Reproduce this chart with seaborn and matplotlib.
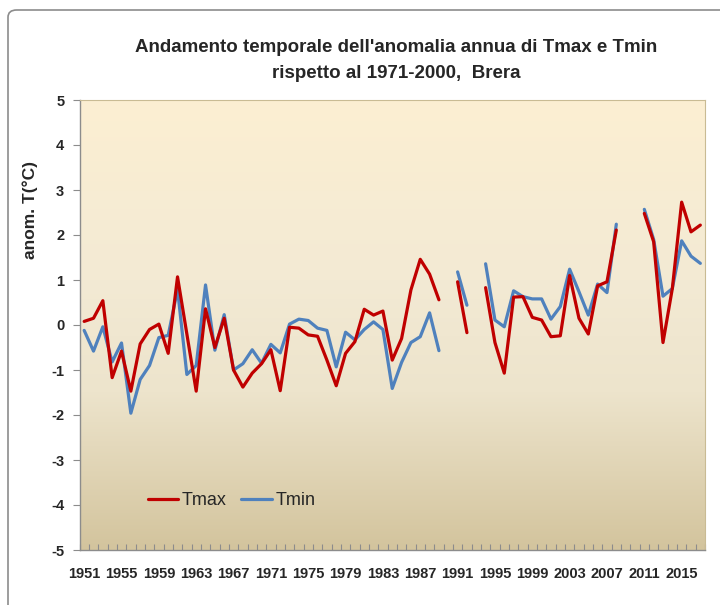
import numpy as np
import pandas as pd
import matplotlib
matplotlib.use("Agg")
import matplotlib.pyplot as plt
import seaborn as sns
from matplotlib.colors import LinearSegmentedColormap
from matplotlib.lines import Line2D
from matplotlib.patches import FancyBboxPatch

# data: annual anomaly vs 1971-2000, Brera
years = list(range(1951, 2018))
tmax = [0.08, 0.15, 0.54, -1.17, -0.58, -1.47, -0.42, -0.10, 0.02, -0.63,
        1.07, -0.20, -1.47, 0.36, -0.50, 0.15, -1.00, -1.38, -1.07, -0.86,
        -0.55, -1.46, -0.05, -0.07, -0.22, -0.25, -0.78, -1.35, -0.63, -0.37,
        0.35, 0.22, 0.31, -0.78, -0.30, 0.78, 1.46, 1.13, 0.56, np.nan,
        0.96, -0.17, np.nan, 0.83, -0.39, -1.07, 0.62, 0.63, 0.17, 0.11,
        -0.26, -0.24, 1.10, 0.15, -0.20, 0.87, 0.96, 2.11, np.nan, np.nan,
        2.48, 1.85, -0.39, 0.81, 2.73, 2.07, 2.22]
tmin = [-0.12, -0.58, -0.04, -0.82, -0.40, -1.96, -1.21, -0.90, -0.28, -0.23,
        0.79, -1.10, -0.90, 0.89, -0.56, 0.23, -1.00, -0.86, -0.55, -0.85,
        -0.43, -0.62, 0.02, 0.13, 0.10, -0.07, -0.12, -0.93, -0.16, -0.33,
        -0.10, 0.07, -0.10, -1.41, -0.83, -0.39, -0.26, 0.27, -0.57, np.nan,
        1.18, 0.44, np.nan, 1.36, 0.11, -0.04, 0.76, 0.63, 0.58, 0.58,
        0.13, 0.41, 1.24, 0.74, 0.22, 0.91, 0.72, 2.24, np.nan, np.nan,
        2.57, 1.90, 0.64, 0.81, 1.87, 1.53, 1.37]
tick_years = list(range(1951, 2016, 4))
y_ticks = list(range(-5, 6))

df = pd.DataFrame({"year": years, "Tmax": tmax, "Tmin": tmin})
# segment id so gaps (missing years) break the lines
df["seg"] = df["Tmax"].isna().cumsum()
df = df.dropna()

sns.set_style("white")
plt.rcParams["font.family"] = ["Liberation Sans", "DejaVu Sans"]

fig = plt.figure(figsize=(7.2, 6.05), dpi=100)
ax = fig.add_axes([79.5 / 720, 55 / 605, 625.5 / 720, 450 / 605])

# outer chart border
fig.patches.append(FancyBboxPatch((8 / 720, -0.05), 1.2, 1.0 - 10 / 605 + 0.05,
                                  boxstyle="round,pad=0,rounding_size=0.012",
                                  transform=fig.transFigure, fill=False,
                                  edgecolor="#8c8c8c", linewidth=1.2))

# gradient background
cmap = LinearSegmentedColormap.from_list(
    "bg", [(0, "#d3c49d"), (0.35, "#ede4cc"), (0.6, "#f3ead4"), (1, "#fcefd2")])
grad = np.linspace(0, 1, 256).reshape(-1, 1)
ax.imshow(grad, cmap=cmap, aspect="auto", origin="lower",
          extent=[1950.5, 2017.5, -5, 5], zorder=0)

sns.lineplot(data=df, x="year", y="Tmax", units="seg", estimator=None,
             color="#c00000", linewidth=2.3, ax=ax, zorder=3)
sns.lineplot(data=df, x="year", y="Tmin", units="seg", estimator=None,
             color="#4f81bd", linewidth=2.3, ax=ax, zorder=2)

ax.set_xlim(1950.5, 2017.5)
ax.set_ylim(-5, 5)
ax.set_xlabel("")
ax.set_ylabel("")

ax.set_xticks(tick_years)
ax.set_xticklabels([str(y) for y in tick_years], fontsize=10.5, fontweight="bold")
ax.set_xticks(np.arange(1950.5, 2018, 1), minor=True)
ax.tick_params(axis="x", which="major", length=0, pad=12)
ax.tick_params(axis="x", which="minor", length=4, direction="in",
               color="#8c8c8c", width=0.8, bottom=True)
ax.set_yticks(y_ticks)
ax.set_yticklabels([str(v) for v in y_ticks], fontsize=10.5, fontweight="bold")
ax.tick_params(axis="y", which="major", length=5, direction="out",
               color="#8c8c8c", width=0.8, left=True, pad=6)

for side in ["left", "bottom"]:
    ax.spines[side].set_color("#8c8c8c")
    ax.spines[side].set_linewidth(1)
for side in ["top", "right"]:
    ax.spines[side].set_color("#c9bb94")
    ax.spines[side].set_linewidth(0.8)

fig.text(396 / 720, 1 - 47 / 605, "Andamento temporale dell'anomalia annua di Tmax e Tmin",
         ha="center", va="center", fontsize=13.5, fontweight="bold")
fig.text(396 / 720, 1 - 73 / 605, "rispetto al 1971-2000,  Brera",
         ha="center", va="center", fontsize=13.5, fontweight="bold")
fig.text(30 / 720, 1 - 210 / 605, "anom. T(°C)", rotation=90,
         ha="center", va="center", fontsize=12.5, fontweight="bold")

handles = [Line2D([], [], color="#c00000", linewidth=2.3),
           Line2D([], [], color="#4f81bd", linewidth=2.3)]
ax.legend(handles, ["Tmax", "Tmin"], loc="center left",
          bbox_to_anchor=(0.083, 0.11), ncol=2, frameon=False, fontsize=13,
          handlelength=1.7, handletextpad=0.2, columnspacing=0.8)

fig.savefig("out.png", dpi=100, facecolor="white")
